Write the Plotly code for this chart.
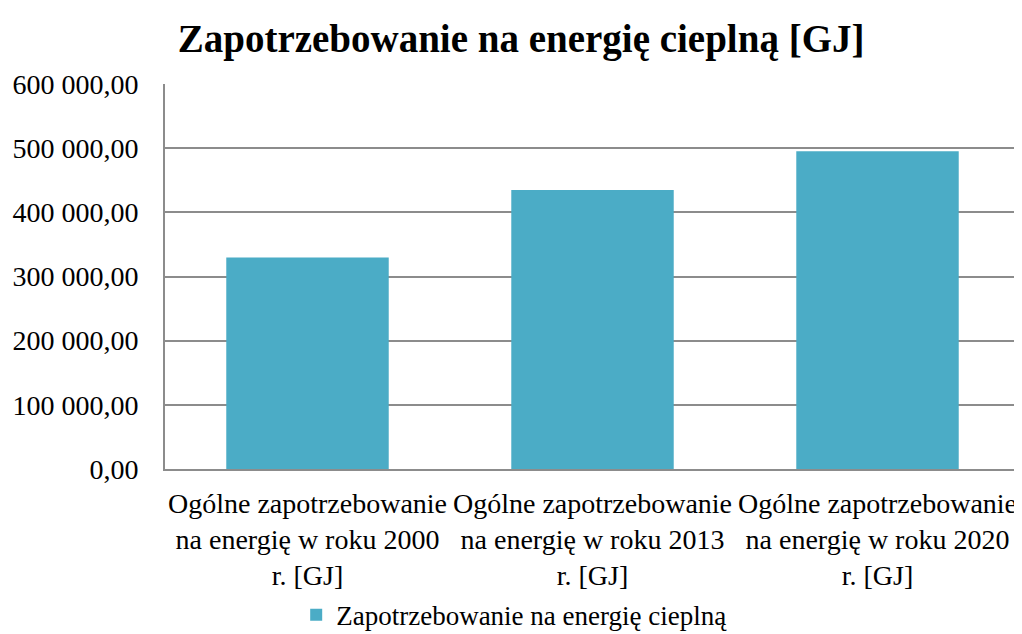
import plotly.graph_objects as go

# data
CATEGORIES = ['Ogólne zapotrzebowanie<br>na energię w roku 2000<br>r. [GJ]',
              'Ogólne zapotrzebowanie<br>na energię w roku 2013<br>r. [GJ]',
              'Ogólne zapotrzebowanie<br>na energię w roku 2020<br>r. [GJ]']
VALUES = [329500, 434800, 495300]
SERIES_NAME = 'Zapotrzebowanie na energię cieplną'
TITLE = 'Zapotrzebowanie na energię cieplną [GJ]'
Y_TICKS = [0, 100000, 200000, 300000, 400000, 500000, 600000]

FONT = 'Liberation Serif'
GRID = '#8c8c8c'

fig = go.Figure()
fig.add_trace(go.Bar(x=CATEGORIES, y=VALUES, name=SERIES_NAME,
                     marker={'color': '#4BACC6', 'line': {'width': 0}}))

#axes
fig.update_yaxes(range=[0, 600000], tickvals=Y_TICKS, tickformat=',.2f',
                 showgrid=True, gridcolor=GRID, gridwidth=2,
                 showline=True, linecolor=GRID, linewidth=2,
                 zeroline=False, ticks='', ticklabelstandoff=19,
                 tickfont={'size': 28, 'color': 'black', 'family': FONT})
fig.update_xaxes(showline=True, linecolor=GRID, linewidth=2, ticks='',
                 ticklabelstandoff=8, tickangle=0,
                 tickfont={'size': 28, 'color': 'black', 'family': FONT})

# page body adds an 8px offset, so the figure is sized to fit the window
fig.update_layout(width=1014, height=626,
                  margin={'l': 157, 'r': 2, 't': 76, 'b': 165, 'autoexpand': False},
                  plot_bgcolor='white', paper_bgcolor='white',
                  separators=', ', bargap=0.43,
                  font={'family': FONT, 'color': 'black'},
                  title={'text': '<b>' + TITLE + '</b>', 'x': 0.506, 'xanchor': 'center',
                         'y': 0.952, 'yanchor': 'middle',
                         'font': {'size': 39, 'family': FONT, 'color': 'black'}},
                  showlegend=True,
                  legend={'orientation': 'h', 'x': 0.409, 'xanchor': 'center',
                          'y': -0.38, 'yanchor': 'middle', 'yref': 'paper',
                          'font': {'size': 27, 'family': FONT, 'color': 'black'}})

fig.write_html('out.html')
